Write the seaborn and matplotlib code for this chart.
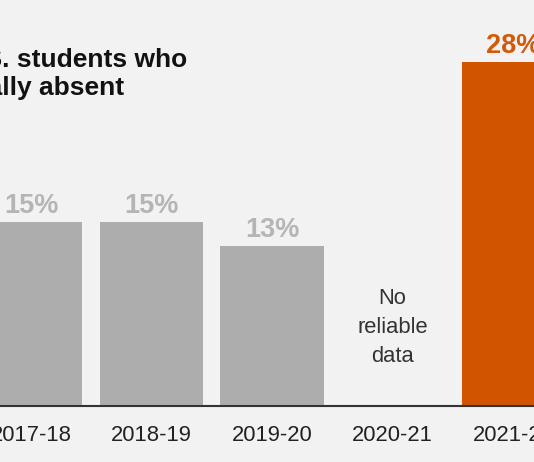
import matplotlib
matplotlib.use("Agg")
import matplotlib.pyplot as plt
import seaborn as sns
import pandas as pd
import numpy as np

years = ["2017-18", "2018-19", "2019-20", "2020-21", "2021-22"]
values = [15, 15, 13, np.nan, 28]
bar_colors = ["#adadad", "#adadad", "#adadad", "#adadad", "#d15400"]
label_colors = ["#b5b5b5", "#b5b5b5", "#b5b5b5", "#b5b5b5", "#d35a0a"]
title_line1 = "Share of U.S. students who"
title_line2 = "were chronically absent"
no_data_text = "No\nreliable\ndata"

df = pd.DataFrame({"year": years, "value": values})

sns.set_theme(style="white")
plt.rcParams["font.family"] = ["Liberation Sans", "DejaVu Sans"]

W, H = 534, 462
fig = plt.figure(figsize=(W / 100, H / 100), dpi=100)
fig.patch.set_facecolor("#f2f2f2")
base_px = 56.5
ax = fig.add_axes([0, base_px / H, 1, 1 - base_px / H])
ax.set_facecolor("#f2f2f2")

sns.barplot(data=df, x="year", y="value", hue="year",
            palette=dict(zip(years, bar_colors)), width=0.855,
            legend=False, ax=ax, saturation=1, edgecolor="none")

ax.set_xlim(-0.257, 4.174)
ax.set_ylim(0, 33.1)

for i, v in enumerate(values):
    if np.isnan(v):
        ax.text(i, 3.55, no_data_text, ha="center", va="baseline",
                fontsize=15.8, color="#333333", linespacing=1.5)
    else:
        ax.text(i, v + 0.75, f"{int(v)}%", ha="center", va="baseline",
                fontsize=19.5, fontweight="bold", color=label_colors[i])

for s in ["top", "left", "right"]:
    ax.spines[s].set_visible(False)
ax.spines["bottom"].set_color("#333333")
ax.spines["bottom"].set_linewidth(1.5)
ax.set_yticks([])
ax.set_xlabel("")
ax.set_ylabel("")
ax.tick_params(axis="x", length=0, pad=14, labelsize=15.8, labelcolor="#222222")

fig.text(187 / W, 1 - 67.3 / H, title_line1, ha="right", va="baseline",
         fontsize=19, fontweight="bold", color="#121212")
fig.text(124 / W, 1 - 95.5 / H, title_line2, ha="right", va="baseline",
         fontsize=19, fontweight="bold", color="#121212")

fig.savefig("out.png", dpi=100, facecolor=fig.get_facecolor())
